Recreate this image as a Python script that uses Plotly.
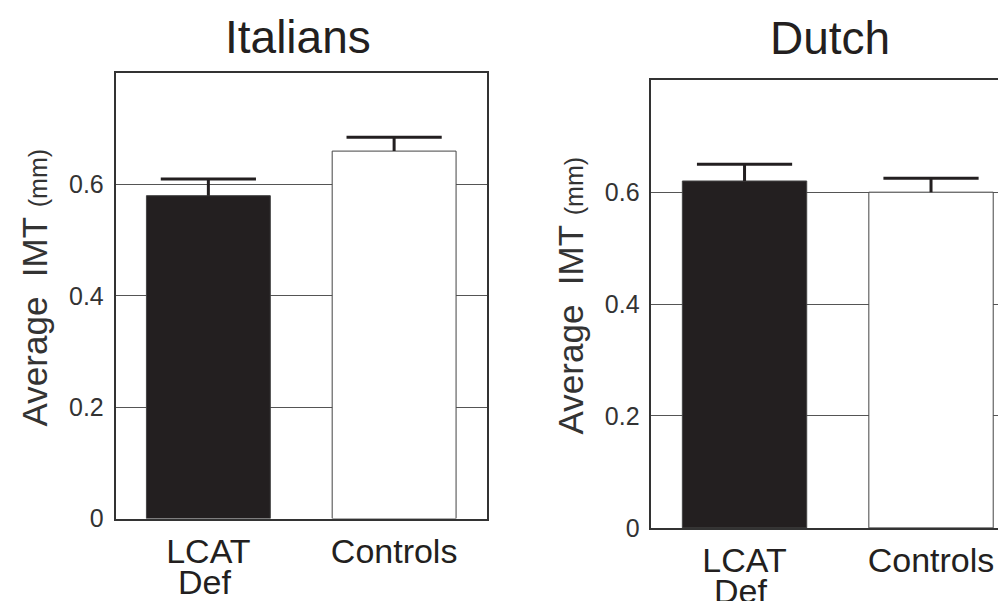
import plotly.graph_objects as go

categories = ["LCAT Def", "Controls"]
tick_line1 = ["LCAT", "Controls"]
tick_line2 = ["Def", ""]
panel_titles = ["Italians", "Dutch"]
italians_means = [0.58, 0.66]
italians_errs = [0.03, 0.025]
dutch_means = [0.62, 0.60]
dutch_errs = [0.03, 0.025]
y_ticks = [0, 0.2, 0.4, 0.6]
y_ticktext = ["0", "0.2", "0.4", "0.6"]

FONT = "Liberation Sans, Arial, sans-serif"
INK = "#231f20"
bar_colors = [INK, "#ffffff"]

fig = go.Figure()

for i, (means, errs) in enumerate([(italians_means, italians_errs), (dutch_means, dutch_errs)]):
    xa = "x" if i == 0 else "x2"
    ya = "y" if i == 0 else "y2"
    fig.add_trace(go.Bar(
        x=categories, y=means, width=0.667,
        marker=dict(color=bar_colors, line=dict(color="#444444", width=1)),
        error_y=dict(type="data", array=errs, arrayminus=[0] * len(errs), symmetric=False,
                     thickness=3, width=0, color=INK),
        xaxis=xa, yaxis=ya, showlegend=False, hoverinfo="skip",
    ))
    # caps of the error bars (upper end only)
    fig.add_trace(go.Scatter(
        x=categories, y=[m + e for m, e in zip(means, errs)], mode="markers",
        marker=dict(symbol="line-ew", size=68, color=INK, line=dict(color=INK, width=3)),
        xaxis=xa, yaxis=ya, showlegend=False, hoverinfo="skip", cliponaxis=False,
    ))

W, H = 1006, 601
def fx(px):
    return px / W
def fy(py):
    return (H - py) / H

ytick_font = dict(family=FONT, size=25, color="#333333")
xtick_font = dict(family=FONT, size=34, color=INK)
line_kw = dict(showline=True, linecolor="#333333", linewidth=1.5, ticks="", ticklen=0)

fig.update_layout(
    width=W, height=H,
    margin=dict(l=0, r=0, t=0, b=0),
    paper_bgcolor="white", plot_bgcolor="white",
    xaxis=dict(domain=[fx(107.5), fx(479)], anchor="y", range=[-0.5, 1.5], mirror=True,
               showgrid=False, tickfont=xtick_font, tickvals=categories, ticktext=tick_line1,
               ticklabelstandoff=2, **line_kw),
    yaxis=dict(domain=[fy(522.8), fy(66.7)], anchor="x", range=[0, 0.8], mirror=True,
               tickvals=y_ticks, ticktext=y_ticktext, showgrid=True, gridcolor="#555555",
               gridwidth=1, zeroline=False, ticklabelstandoff=5, tickfont=ytick_font, **line_kw),
    xaxis2=dict(domain=[fx(643.3), 1.0], anchor="y2", range=[-0.5, 1.445], mirror=True,
                showgrid=False, tickfont=xtick_font, tickvals=categories, ticktext=tick_line1,
                ticklabelstandoff=2, **line_kw),
    yaxis2=dict(domain=[fy(532.3), fy(74)], anchor="x2", range=[0, 0.8], mirror=False,
                tickvals=y_ticks, ticktext=y_ticktext, showgrid=True, gridcolor="#555555",
                gridwidth=1, zeroline=False, ticklabelstandoff=5, tickfont=ytick_font, **line_kw),
)

ytitle = "Average&nbsp;&nbsp;IMT&nbsp;<span style='font-size:25px'>(mm)</span>"
for i in range(2):
    xa = "x" if i == 0 else "x2"
    xd = xa + " domain"
    yd = ("y" if i == 0 else "y2") + " domain"
    fig.add_annotation(text=panel_titles[i], xref=xd, yref=yd, x=0.5, y=1,
                       xshift=-3, yanchor="middle", yshift=[36, 42][i], showarrow=False,
                       font=dict(family=FONT, size=46, color=INK))
    fig.add_annotation(text=ytitle, xref=xd, yref=yd, x=0, y=0.5, xanchor="center",
                       yanchor="middle", xshift=-81, yshift=8, textangle=-90, showarrow=False,
                       font=dict(family=FONT, size=35, color="#333333"))
    for cat, extra in zip(categories, tick_line2):
        if extra:
            fig.add_annotation(text=extra, xref=xa, yref=yd, x=cat, y=0, yanchor="top",
                               xshift=-4, yshift=-42, showarrow=False, font=xtick_font)

fig.write_html("out.html")
